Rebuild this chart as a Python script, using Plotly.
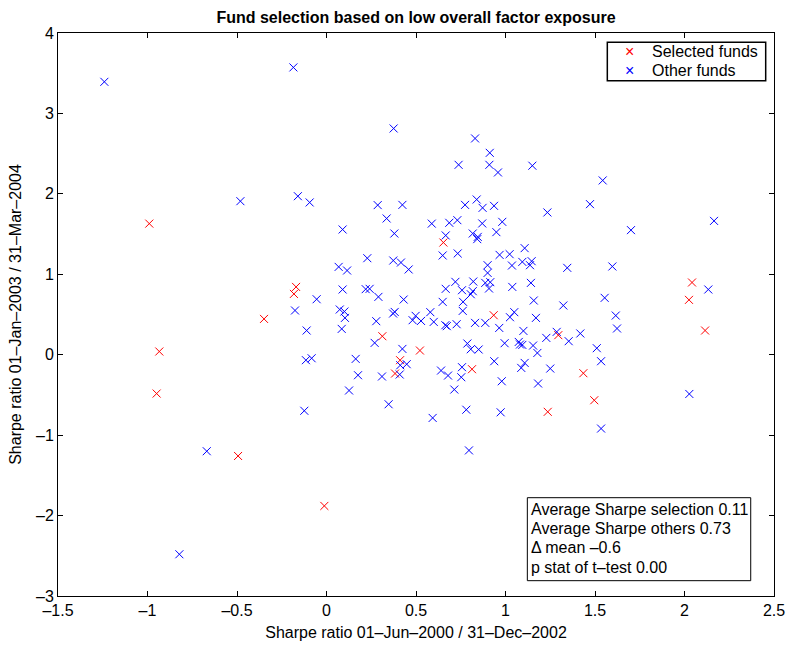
import plotly.graph_objects as go

# Selected funds (red)
sel_x = [-0.99, -0.170, -0.182, -0.349, -0.934, -0.949, -0.494, -0.012, 1.236, 0.653, 0.934,
         0.312, 0.522, 0.411, 0.383, 0.813, 2.042, 2.025, 2.115, 1.295, 1.435, 1.496]
sel_y = [1.63, 0.843, 0.756, 0.445, 0.04, -0.483, -1.259, -1.88, -0.71, 1.395, 0.491,
         0.23, 0.052, -0.068, -0.234, -0.18, 0.898, 0.682, 0.301, 0.243, -0.23, -0.566]

# Other funds (blue)
oth_x = [-1.241, -0.185, -0.481, -0.160, -0.176, -0.669, -0.822, 0.593, 0.781, 0.973,
         0.796, -0.124, 1.534, 1.15, 1.543, 1.472, 1.234, 2.165, 0.375, 0.83,
         0.912, 0.738, 0.91, 0.958, -0.094, 0.286, 0.424, 0.336, 0.774, 0.839,
         0.872, 0.936, 0.588, 0.686, 0.731, 0.87, 0.982, 0.09, 0.379, 0.666,
         0.817, 0.845, 0.842, 0.949, 0.649, 0.733, 0.967, 1.023, 1.107, 1.094,
         1.146, 1.137, 1.036, 0.9, 0.9, 0.228, 0.068, 0.115, 0.373, 0.416,
         0.459, 0.09, 0.219, 0.241, 0.29, -0.055, 0.431, 0.074, 0.1, 0.103,
         0.085, -0.111, 0.278, 0.372, 0.381, 0.481, 0.498, 0.528, 0.58, 0.599,
         0.649, 0.666, 0.72, 0.757, 0.82, 0.817, 0.806, 0.763, 0.761, 0.887,
         0.915, 0.908, 1.038, 1.142, 1.158, 1.17, 1.049, 1.025, 0.664, 0.672,
         0.727, 0.83, 0.887, 0.965, 1.1, 0.269, 0.424, 0.787, 0.806, 0.85,
         0.995, 1.074, 1.081, 1.094, 1.154, 1.178, 1.107, 1.088, 0.937, 0.979,
         1.182, -0.115, -0.083, 0.163, 0.412, 0.448, 0.409, 0.176, 0.31, 0.64,
         0.679, 0.757, 0.753, 0.714, 0.126, 0.347, 1.701, 1.345, 1.597, 2.133,
         1.323, 1.554, 1.616, 1.623, 1.286, 1.228, 1.353, 1.418, 1.51, 1.534,
         1.25, 2.027]
oth_y = [3.393, 3.572, 1.909, 1.971, 0.55, -1.2, -2.481, -0.786, -0.684, -0.716,
         -1.19, -0.697, -0.918, 2.35, 2.167, 1.872, 1.769, 1.664, 2.813, 2.689,
         2.51, 2.361, 2.361, 2.266, 1.893, 1.86, 1.863, 1.694, 1.863, 1.93,
         1.826, 1.851, 1.63, 1.64, 1.673, 1.632, 1.652, 1.557, 1.507, 1.483,
         1.507, 1.465, 1.437, 1.524, 1.234, 1.259, 1.241, 1.25, 1.325, 1.154,
         1.163, 1.113, 1.109, 1.113, 1.017, 1.2, 1.092, 1.047, 1.171, 1.146,
         1.06, 0.811, 0.815, 0.819, 0.719, 0.69, 0.686, 0.562, 0.537, 0.458,
         0.321, 0.301, 0.417, 0.512, 0.532, 0.429, 0.483, 0.42, 0.529, 0.408,
         0.657, 0.819, 0.906, 0.802, 0.91, 0.79, 0.752, 0.657, 0.545, 0.893,
         0.902, 0.823, 0.843, 0.893, 0.674, 0.458, 0.529, 0.466, 0.367, 0.355,
         0.379, 0.396, 0.396, 0.333, 0.296, 0.147, 0.072, 0.139, 0.068, 0.065,
         0.143, 0.159, 0.127, 0.122, 0.114, 0.022, -0.102, -0.164, -0.081, -0.33,
         -0.358, -0.068, -0.044, -0.052, -0.131, -0.118, -0.246, -0.255, -0.271, -0.197,
         -0.259, -0.155, -0.28, -0.433, -0.445, -0.616, 1.549, 1.08, 1.097, 0.811,
         0.612, 0.707, 0.487, 0.326, 0.284, 0.209, 0.168, 0.264, 0.081, -0.081,
         -0.172, -0.488]

series_names = ["Selected funds", "Other funds"]
series_colors = ["#ff0000", "#0000ff"]

x_ticks = [-1.5, -1, -0.5, 0, 0.5, 1, 1.5, 2, 2.5]
x_ticklabels = ["\u20131.5", "\u20131", "\u20130.5", "0", "0.5", "1", "1.5", "2", "2.5"]
y_ticks = [-3, -2, -1, 0, 1, 2, 3, 4]
y_ticklabels = ["\u20133", "\u20132", "\u20131", "0", "1", "2", "3", "4"]

stats_lines = ["Average Sharpe selection 0.11", "Average Sharpe others 0.73",
               "\u0394 mean \u20130.6", "p stat of t\u2013test 0.00"]

FONT = "Liberation Sans, Arial, Helvetica, sans-serif"
FS = 16

fig = go.Figure()
for xs, ys, nm, col in [(sel_x, sel_y, series_names[0], series_colors[0]),
                        (oth_x, oth_y, series_names[1], series_colors[1])]:
    fig.add_trace(go.Scatter(x=xs, y=ys, mode="markers", name=nm, showlegend=False,
                             marker=dict(symbol="x-thin", size=8, color=col,
                                         line=dict(width=1, color=col))))

axis_common = dict(showgrid=False, zeroline=False, showline=True, linecolor="black",
                   linewidth=1, mirror="ticks", ticks="inside", ticklen=5,
                   tickcolor="black", tickfont=dict(size=FS, color="black"),
                   automargin=False)

fig.update_layout(
    width=787, height=649,
    margin=dict(l=58, r=13, t=33, b=53),
    paper_bgcolor="white", plot_bgcolor="white",
    font=dict(family=FONT, color="black", size=FS),
    title=dict(text="<b>Fund selection based on low overall factor exposure</b>",
               x=(58 + 716 / 2) / 787, xanchor="center", y=1 - 17 / 649, yanchor="middle",
               font=dict(size=FS)),
    xaxis=dict(range=[-1.5, 2.5], tickvals=x_ticks, ticktext=x_ticklabels,
               title=dict(text="Sharpe ratio 01\u2013Jun\u20132000 / 31\u2013Dec\u20132002",
                          font=dict(size=FS), standoff=8), **axis_common),
    yaxis=dict(range=[-3, 4], tickvals=y_ticks, ticktext=y_ticklabels,
               title=dict(text="Sharpe ratio 01\u2013Jan\u20132003 / 31\u2013Mar\u20132004",
                          font=dict(size=FS), standoff=10), **axis_common),
    showlegend=False,
)

# Legend box (drawn as a framed box with one row per series)
fig.add_shape(type="rect", xref="paper", yref="paper", x0=0.7672, x1=0.9884,
              y0=0.9153, y1=0.9835, line=dict(color="black", width=1.5),
              fillcolor="white", layer="above")
legend_rows_y = [0.9668, 0.933]
for nm, col, ry in zip(series_names, series_colors, legend_rows_y):
    fig.add_annotation(xref="paper", yref="paper", x=0.7979, y=ry, xanchor="center",
                       yanchor="middle", showarrow=False, text="\u00d7",
                       font=dict(size=FS, color=col))
    fig.add_annotation(xref="paper", yref="paper", x=0.8275, y=ry, xanchor="left",
                       yanchor="middle", showarrow=False, text=nm,
                       font=dict(size=FS, color="black"))

# Statistics box
fig.add_shape(type="rect", xref="paper", yref="paper", x0=0.6555, x1=0.9675,
              y0=0.0272, y1=0.1746, line=dict(color="black", width=1),
              fillcolor="white", layer="above")
stats_rows_y = [0.1528, 0.1202, 0.0857, 0.0510]
for txt, ry in zip(stats_lines, stats_rows_y):
    fig.add_annotation(xref="paper", yref="paper", x=0.6585, y=ry, xanchor="left",
                       yanchor="middle", showarrow=False, text=txt,
                       font=dict(size=FS, color="black"))

fig.write_html("out.html")
